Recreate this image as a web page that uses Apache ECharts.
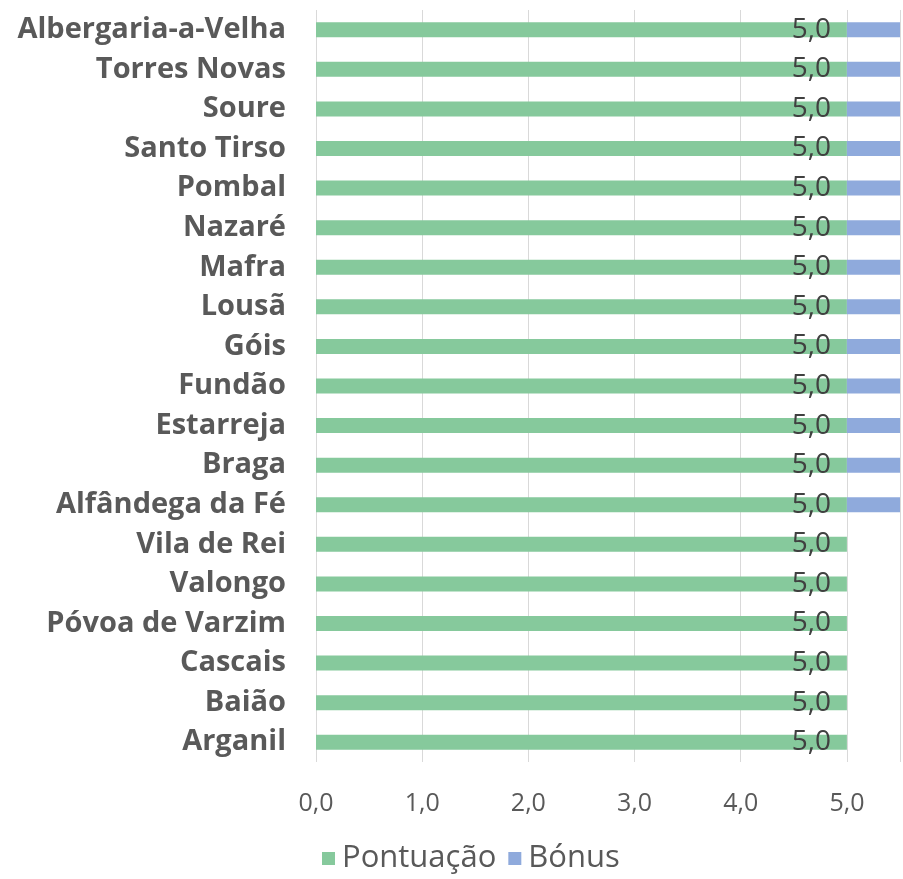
<!DOCTYPE html>
<html>
<head>
<meta charset="utf-8">
<script src="https://cdn.jsdelivr.net/npm/echarts@6/dist/echarts.min.js"></script>
<style>
  html, body { margin: 0; padding: 0; background: #fff; }
  #chart { width: 903px; height: 879px; }
</style>
</head>
<body>
<div id="chart"></div>
<script>
// concelhos, de cima para baixo
var concelhos = ['Albergaria-a-Velha', 'Torres Novas', 'Soure', 'Santo Tirso', 'Pombal', 'Nazaré', 'Mafra',
  'Lousã', 'Góis', 'Fundão', 'Estarreja', 'Braga', 'Alfândega da Fé', 'Vila de Rei', 'Valongo',
  'Póvoa de Varzim', 'Cascais', 'Baião', 'Arganil']
var pontuacao = [5, 5, 5, 5, 5, 5, 5, 5, 5, 5, 5, 5, 5, 5, 5, 5, 5, 5, 5]
var bonus = [0.5, 0.5, 0.5, 0.5, 0.5, 0.5, 0.5, 0.5, 0.5, 0.5, 0.5, 0.5, 0.5, 0, 0, 0, 0, 0, 0]
var ticks = [0, 1, 2, 3, 4, 5]

var fonte = 'Open Sans, Roboto, sans-serif'
var chart = echarts.init(document.getElementById('chart'))

function virgula (v) {
  return v.toFixed(1).replace('.', ',')
}

chart.setOption({
  animation: false,
  textStyle: { fontFamily: fonte },
  grid: { left: 316, right: 1, top: 10, bottom: 117 },
  legend: {
    top: 843,
    left: 322,
    padding: 0,
    itemWidth: 13,
    itemHeight: 13,
    itemGap: 12,
    icon: 'rect',
    textStyle: { fontSize: 31, color: '#595959', fontFamily: fonte, padding: [0, 0, 0, 2] },
    data: ['Pontuação', 'Bónus']
  },
  xAxis: {
    type: 'value',
    min: 0,
    max: 5.5,
    interval: 1,
    axisLine: { show: false },
    axisTick: { show: false },
    splitLine: { lineStyle: { color: '#d9d9d9', width: 1 } },
    axisLabel: {
      margin: 29,
      fontSize: 25,
      color: '#595959',
      formatter: function (v) {
        return ticks.indexOf(v) >= 0 ? virgula(v) : ''
      }
    }
  },
  yAxis: {
    type: 'category',
    inverse: true,
    data: concelhos,
    axisLine: { show: false },
    axisTick: { show: false },
    axisLabel: {
      margin: 30,
      fontSize: 29,
      fontWeight: 'bold',
      color: '#595959'
    }
  },
  series: [
    {
      name: 'Pontuação',
      type: 'bar',
      stack: 'total',
      barWidth: 15,
      data: pontuacao,
      itemStyle: { color: '#86c99c' },
      label: {
        show: true,
        position: 'insideRight',
        distance: 16,
        fontSize: 28,
        color: '#404040',
        formatter: function (p) { return virgula(p.value) }
      }
    },
    {
      name: 'Bónus',
      type: 'bar',
      stack: 'total',
      barWidth: 15,
      data: bonus,
      itemStyle: { color: '#8faadc' }
    }
  ]
})
</script>
</body>
</html>
